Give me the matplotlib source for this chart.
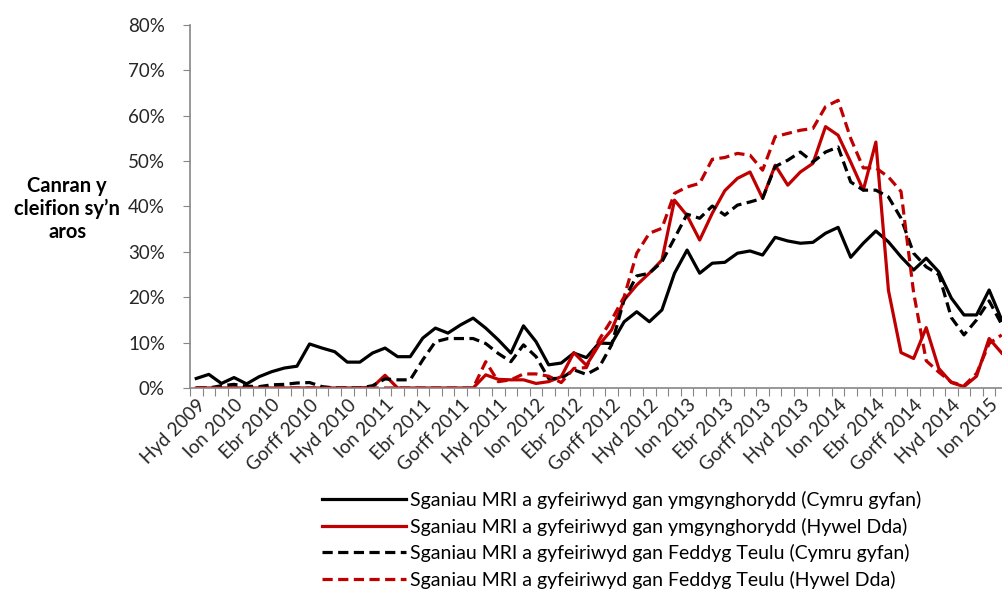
import numpy as np
import matplotlib
matplotlib.use('Agg')
import matplotlib.pyplot as plt

plt.rcParams['font.family'] = ['Lato', 'DejaVu Sans']

# tick labels every third month, Hyd 2009 to Ion 2015
tick_labels = ['Hyd 2009', 'Ion 2010', 'Ebr 2010', 'Gorff 2010', 'Hyd 2010',
               'Ion 2011', 'Ebr 2011', 'Gorff 2011', 'Hyd 2011', 'Ion 2012',
               'Ebr 2012', 'Gorff 2012', 'Hyd 2012', 'Ion 2013', 'Ebr 2013',
               'Gorff 2013', 'Hyd 2013', 'Ion 2014', 'Ebr 2014', 'Gorff 2014',
               'Hyd 2014', 'Ion 2015']

# monthly values (%), Oct 2009 - Feb 2015
cons_wales = [2.1, 3.0, 1.0, 2.3, 0.9, 2.5, 3.6, 4.4, 4.8, 9.7,
              8.8, 8.0, 5.7, 5.7, 7.7, 8.8, 6.9, 6.9, 11.0, 13.2,
              12.1, 13.9, 15.4, 13.2, 10.6, 7.7, 13.7, 10.2, 5.1, 5.5,
              7.7, 6.7, 9.9, 9.8, 14.6, 16.8, 14.6, 17.2, 25.3, 30.4,
              25.3, 27.5, 27.7, 29.7, 30.2, 29.3, 33.2, 32.4, 31.9, 32.1,
              34.1, 35.4, 28.8, 31.9, 34.6, 32.2, 28.9, 26.0, 28.6, 25.6,
              19.8, 16.1, 16.1, 21.6, 15.0]
cons_hd = [0, 0, 0, 0, 0, 0, 0, 0, 0, 0,
           0, 0, 0, 0, 0.2, 2.8, 0, 0, 0, 0,
           0, 0, 0, 2.9, 1.9, 1.8, 1.8, 1.0, 1.4, 2.5,
           7.8, 5.0, 9.5, 12.8, 19.4, 22.7, 25.3, 28.2, 41.4, 38.0,
           32.6, 38.5, 43.5, 46.2, 47.6, 41.8, 49.1, 44.7, 47.6, 49.5,
           57.6, 55.7, 49.8, 43.6, 54.2, 21.5, 7.8, 6.5, 13.3, 4.3,
           1.2, 0.3, 2.6, 10.9, 7.7]
gp_wales = [0, 0, 0.5, 0.8, 0.4, 0.3, 0.7, 0.8, 1.1, 1.2,
            0.3, 0, 0, 0, 0.5, 2.0, 1.8, 1.8, 6.2, 10.2,
            10.9, 10.9, 10.9, 9.8, 7.6, 5.8, 9.5, 6.9, 2.1, 2.1,
            4.0, 3.0, 4.5, 9.5, 19.5, 24.7, 25.3, 27.8, 33.0, 38.3,
            37.4, 40.1, 38.1, 40.3, 41.0, 41.8, 48.8, 50.2, 52.0, 49.8,
            52.0, 53.1, 45.4, 43.6, 43.6, 42.1, 37.4, 29.7, 26.7, 25.0,
            15.5, 11.7, 15.0, 19.2, 14.0]
gp_hd = [0, 0, 0, 0, 0, 0, 0, 0, 0, 0,
         0, 0, 0, 0, 0, 0, 0, 0, 0, 0,
         0, 0, 0, 5.8, 1.4, 1.8, 3.1, 3.1, 2.6, 1.2,
         4.3, 4.5, 10.6, 15.0, 20.1, 29.7, 34.1, 35.2, 42.9, 44.3,
         45.1, 50.4, 50.8, 51.7, 51.3, 48.0, 55.4, 56.1, 56.8, 57.2,
         62.0, 63.4, 55.0, 48.5, 48.5, 46.5, 43.3, 21.0, 6.0, 3.5,
         1.3, 0.5, 3.2, 9.8, 11.7]

labels = ['Sganiau MRI a gyfeiriwyd gan ymgynghorydd (Cymru gyfan)',
          'Sganiau MRI a gyfeiriwyd gan ymgynghorydd (Hywel Dda)',
          'Sganiau MRI a gyfeiriwyd gan Feddyg Teulu (Cymru gyfan)',
          'Sganiau MRI a gyfeiriwyd gan Feddyg Teulu (Hywel Dda)']
ylabel = 'Canran y\ncleifion sy\u2019n\naros'

red = '#C00000'
x = np.arange(len(cons_wales))

fig = plt.figure(figsize=(10.03, 5.92), dpi=100)
ax = fig.add_axes([0.1894, 0.3446, 0.8156, 0.6132])

ax.plot(x, cons_wales, color='black', lw=2.3, label=labels[0])
ax.plot(x, cons_hd, color=red, lw=2.3, label=labels[1])
ax.plot(x, gp_wales, color='black', lw=2.3, dashes=(3.2, 1.7), label=labels[2])
ax.plot(x, gp_hd, color=red, lw=2.3, dashes=(3.2, 1.7), label=labels[3])

ax.set_xlim(-0.5, len(x) - 0.5)
ax.set_ylim(0, 80)
yt = np.arange(0, 81, 10)
ax.set_yticks(yt)
ax.set_yticklabels([f'{v}%' for v in yt], fontsize=13.5, color='#262626')

# tick marks between months, labels every 3rd month
ax.set_xticks(np.arange(-0.5, len(x), 1))
ax.set_xticklabels([])
ax.set_xticks(np.arange(0, len(x), 3)[:len(tick_labels)], minor=True)
ax.set_xticklabels(tick_labels, minor=True, rotation=45, ha='right', va='top',
                   rotation_mode='anchor', fontsize=13.5, color='#262626')
ax.tick_params(axis='x', which='major', length=6, color='#868686', direction='out')
ax.tick_params(axis='x', which='minor', length=0, pad=6)
ax.tick_params(axis='y', length=5, color='#868686', pad=13)

for s in ['top', 'right']:
    ax.spines[s].set_visible(False)
for s in ['left', 'bottom']:
    ax.spines[s].set_color('#868686')
    ax.spines[s].set_linewidth(1.2)

fig.text(0.067, 1 - 209 / 592, ylabel, ha='center', va='center', fontsize=14.5,
         fontweight='bold', linespacing=1.2)

fig.legend(loc='upper left', bbox_to_anchor=(0.321, 1 - 491 / 592), frameon=False,
           fontsize=14, handlelength=4.3, handletextpad=0.25, labelspacing=0.44,
           borderpad=0, borderaxespad=0)

fig.savefig('out.png', dpi=100)
